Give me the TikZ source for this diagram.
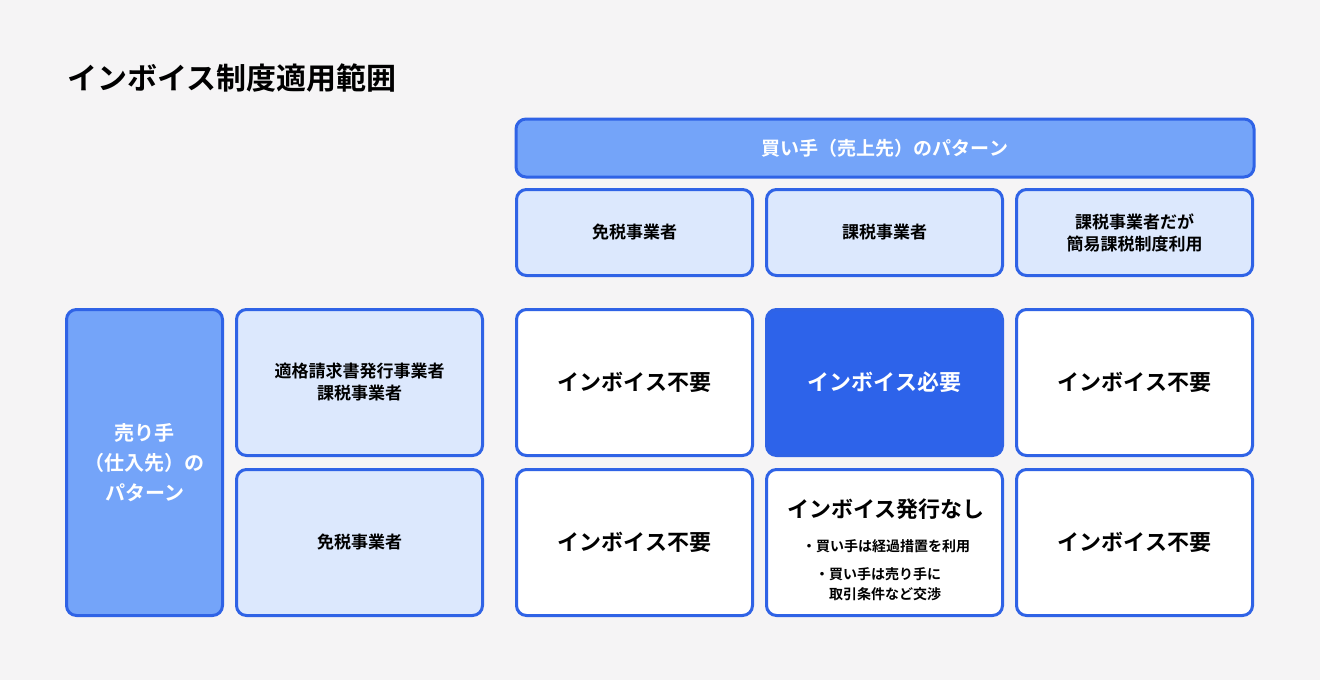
\documentclass[tikz,border=0pt]{standalone}
\usepackage{fontspec}
\setmainfont{Noto Sans CJK JP}
\newfontfamily\jpbold{Noto Sans CJK JP Bold}
\definecolor{bgc}{HTML}{F5F4F5}
\definecolor{edgeblue}{HTML}{2F63E6}
\definecolor{midblue}{HTML}{74A4F9}
\definecolor{paleblue}{HTML}{DCE8FD}
\definecolor{deepblue}{HTML}{2D63EA}
\tikzset{
  box/.style={draw=edgeblue,line width=1.5pt,rounded corners=5pt,inner sep=0,align=center,font=\jpbold},
  headbox/.style={box,fill=midblue,text=white},
  labbox/.style={box,fill=paleblue,font=\jpbold\fontsize{8.5}{11}\selectfont},
  cellbox/.style={box,fill=white,minimum width=118pt,minimum height=73pt,font=\jpbold\fontsize{11}{13}\selectfont},
}
\begin{document}
\begin{tikzpicture}[x=0.5pt,y=-0.5pt]
  \fill[bgc](0,0)rectangle(1320,680);
  \useasboundingbox(0,0)rectangle(1320,680);
  \node[anchor=west,font=\jpbold\fontsize{15}{18}\selectfont](title)at(60,78){インボイス制度適用範囲};
  % header rows
  \node[headbox,minimum width=369pt,minimum height=29pt,font=\jpbold\fontsize{9.5}{12}\selectfont](buyer)at(885,148){買い手（売上先）のパターン};
  \node[labbox,minimum width=118pt,minimum height=43pt](c1)at(634.5,232.5){免税事業者};
  \node[labbox,minimum width=118pt,minimum height=43pt](c2)at(884.5,232.5){課税事業者};
  \node[labbox,minimum width=118pt,minimum height=43pt](c3)at(1134.5,232.5){課税事業者だが\\簡易課税制度利用};
  % seller side
  \node[headbox,minimum width=78pt,minimum height=153pt,font=\jpbold\fontsize{10}{15}\selectfont](seller)at(144.5,462.5){売り手\\（仕入先）の\\パターン};
  \node[labbox,minimum width=123pt,minimum height=73pt](r1)at(359.5,382.5){適格請求書発行事業者\\課税事業者};
  \node[labbox,minimum width=123pt,minimum height=73pt](r2)at(359.5,542.5){免税事業者};
  % cells
  \node[cellbox](a11)at(634.5,382.5){インボイス不要};
  \node[cellbox,fill=deepblue,text=white](a12)at(884.5,382.5){インボイス必要};
  \node[cellbox](a13)at(1134.5,382.5){インボイス不要};
  \node[cellbox](a21)at(634.5,542.5){インボイス不要};
  \node[cellbox](a22)at(884.5,542.5){};
  \node[cellbox](a23)at(1134.5,542.5){インボイス不要};
  \node[font=\jpbold\fontsize{11}{13}\selectfont](n1)at(886,509){インボイス発行なし};
  \node[font=\jpbold\fontsize{7}{10}\selectfont](n2)at(886,546){・買い手は経過措置を利用};
  \node[font=\jpbold\fontsize{7}{10}\selectfont,align=left,anchor=north west](n3)at(808,560){・買い手は売り手に\\\hspace{1em}取引条件など交渉};
\end{tikzpicture}
\end{document}
